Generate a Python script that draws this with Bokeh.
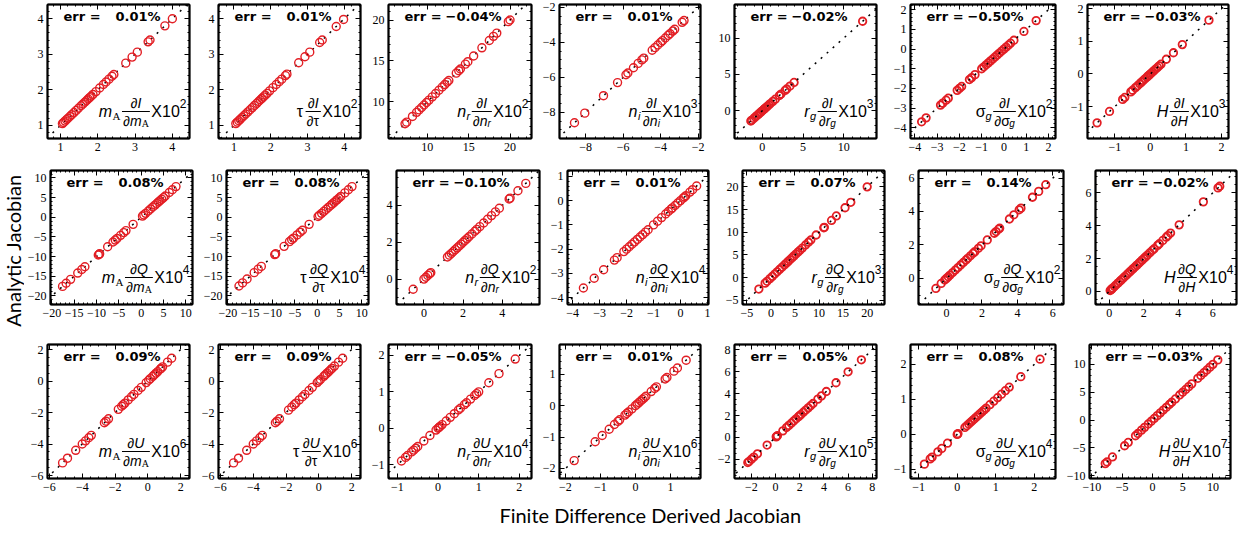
import math
from bokeh.plotting import figure
from bokeh.models import (Range1d, LinearAxis, SingleIntervalTicker, Label,
                          Slope, BoxAnnotation)
from bokeh.layouts import row, column
from bokeh.embed import file_html
from bokeh.resources import INLINE

# ---------------- data (finite-difference values; analytic values coincide within err) -------------
# row 1 : dI
r1_mA = [1.05, 1.08, 1.12, 1.16, 1.2, 1.25, 1.3, 1.36, 1.42, 1.48, 1.55, 1.6, 1.65, 1.7, 1.74, 1.78,
         1.82, 1.87, 1.95, 2.05, 2.15, 2.22, 2.3, 2.38, 2.43, 2.75, 2.92, 3.06, 3.35, 3.4, 3.8, 4.0]
r1_tau = [1.05, 1.09, 1.13, 1.17, 1.22, 1.27, 1.32, 1.38, 1.44, 1.5, 1.56, 1.62, 1.67, 1.72, 1.76, 1.8,
          1.85, 1.9, 1.97, 2.06, 2.15, 2.23, 2.3, 2.4, 2.44, 2.76, 2.93, 3.06, 3.33, 3.4, 3.78, 3.98]
r1_nr = [7.3, 7.5, 8.2, 8.7, 9.0, 9.3, 9.6, 9.9, 10.2, 10.6, 11.0, 11.4, 11.8, 12.1, 12.4, 12.6, 13.5,
         13.8, 14.0, 14.6, 14.9, 15.6, 16.6, 17.5, 18.0, 18.4, 19.8, 20.0]
r1_ni = [-8.6, -8.05, -7.05, -6.3, -5.85, -5.75, -5.45, -5.2, -5.0, -4.9, -4.45, -4.3, -4.15, -4.0,
         -3.9, -3.75, -3.6, -3.5, -3.35, -3.25, -2.85, -2.75]
r1_rg = [-1.4, -1.3, -1.05, -0.85, -0.65, -0.45, -0.3, -0.15, 0.0, 0.15, 0.3, 0.45, 0.6, 0.8, 1.0,
         1.3, 1.6, 2.1, 2.3, 2.8, 3.0, 3.4, 3.9, 12.3]
r1_sg = [-3.7, -3.5, -2.85, -2.75, -2.6, -2.5, -2.1, -2.0, -1.9, -1.55, -1.45, -1.3, -1.0, -0.9, -0.8,
         -0.7, -0.6, -0.5, -0.4, -0.3, -0.2, -0.1, 0.0, 0.1, 0.2, 0.3, 0.45, 0.9, 1.45]
r1_H = [-1.5, -1.15, -0.78, -0.72, -0.55, -0.5, -0.42, -0.36, -0.3, -0.25, -0.2, -0.15, -0.1, -0.06,
        -0.02, 0.02, 0.06, 0.1, 0.15, 0.2, 0.25, 0.3, 0.45, 0.65, 0.9, 1.65]
# row 2 : dQ
r2_mA = [-17.6, -16.8, -15.8, -14.2, -13.3, -12.6, -9.6, -9.4, -9.3, -7.5, -6.3, -5.8, -5.4, -4.6,
         -3.9, -3.4, -1.8, 0.3, 0.6, 1.0, 1.6, 2.1, 2.6, 3.1, 3.5, 3.9, 4.2, 4.6, 5.0, 5.4, 6.3, 7.0, 7.8]
r2_tau = [-17.5, -16.7, -15.7, -14.1, -13.2, -12.5, -9.5, -9.3, -7.4, -6.2, -5.7, -5.3, -4.5, -3.8,
          -3.3, -1.8, 0.2, 0.5, 1.0, 1.5, 2.0, 2.5, 3.0, 3.4, 3.8, 4.2, 4.5, 4.9, 5.3, 6.2, 7.0, 7.8]
r2_nr = [-0.55, 0.0, 0.1, 0.2, 0.3, 0.35, 1.2, 1.3, 1.4, 1.5, 1.6, 1.7, 1.8, 1.9, 2.0, 2.1, 2.2, 2.3,
         2.45, 2.6, 2.7, 2.85, 3.05, 3.25, 3.45, 3.65, 3.85, 4.35, 4.4, 4.8, 5.2]
r2_ni = [-3.6, -3.2, -2.85, -2.45, -2.35, -2.1, -2.0, -1.9, -1.8, -1.7, -1.6, -1.5, -1.4, -1.3, -1.2,
         -1.0, -0.85, -0.7, -0.55, -0.45, -0.35, -0.3, -0.2, -0.1, 0.0, 0.1, 0.15, 0.2, 0.35, 0.45, 0.6]
r2_rg = [-2.5, -1.2, -0.8, -0.2, 0.3, 0.8, 1.3, 1.8, 2.3, 2.8, 3.2, 3.6, 4.0, 4.4, 4.8, 5.2, 5.6, 6.0,
         6.5, 7.2, 7.8, 8.3, 9.4, 11.0, 11.1, 12.6, 13.6, 15.4, 16.6, 20.0]
r2_sg = [-0.6, -0.3, -0.1, 0.0, 0.1, 0.2, 0.35, 0.5, 0.65, 0.8, 0.95, 1.1, 1.2, 1.35, 1.5, 1.6, 1.8,
         1.95, 2.3, 2.7, 2.8, 2.95, 3.0, 3.55, 3.8, 4.1, 4.2, 4.85, 5.2, 5.6]
r2_H = [0.05, 0.1, 0.15, 0.2, 0.3, 0.4, 0.5, 0.6, 0.7, 0.8, 0.9, 1.0, 1.1, 1.2, 1.3, 1.4, 1.5, 1.6,
        1.7, 1.8, 1.9, 2.0, 2.1, 2.2, 2.35, 2.5, 2.6, 2.8, 2.9, 3.1, 3.3, 3.4, 3.55, 4.05, 5.45, 6.3, 6.4]
# row 3 : dU
r3_mA = [-5.2, -4.9, -4.4, -4.0, -3.8, -3.6, -3.45, -2.65, -2.55, -2.4, -1.8, -1.6, -1.5, -1.4, -1.2,
         -1.0, -0.85, -0.6, -0.4, -0.1, 0.05, 0.15, 0.3, 0.4, 0.5, 0.6, 0.75, 0.8, 0.9, 1.2, 1.45]
r3_tau = [-5.2, -4.9, -4.4, -4.0, -3.8, -3.6, -3.45, -2.65, -2.55, -2.4, -1.85, -1.65, -1.5, -1.4,
          -1.2, -1.0, -0.85, -0.6, -0.4, -0.1, 0.0, 0.1, 0.3, 0.4, 0.5, 0.6, 0.7, 0.8, 0.95, 1.2, 1.45]
r3_nr = [-0.9, -0.8, -0.75, -0.65, -0.6, -0.55, -0.5, -0.35, -0.2, -0.05, 0.0, 0.02, 0.05, 0.1, 0.2,
         0.3, 0.4, 0.5, 0.55, 0.65, 0.7, 0.8, 0.9, 0.95, 1.0, 1.25, 1.5, 1.9]
r3_ni = [-1.75, -1.15, -0.95, -0.75, -0.6, -0.5, -0.45, -0.3, -0.25, -0.2, -0.1, 0.0, 0.05, 0.1,
         0.15, 0.2, 0.25, 0.3, 0.45, 0.55, 0.6, 0.85, 0.9, 1.1, 1.2, 1.45]
r3_rg = [-2.3, -2.2, -2.0, -1.8, -1.5, -0.7, 0.05, 0.1, 0.15, 0.6, 0.9, 1.1, 1.3, 1.5, 1.7, 1.9, 2.0,
         2.1, 2.3, 2.5, 2.7, 2.9, 3.1, 3.5, 3.8, 4.2, 5.0, 6.0, 7.1]
r3_sg = [-0.85, -0.7, -0.65, -0.5, -0.4, -0.25, 0.0, 0.01, 0.02, 0.2, 0.25, 0.3, 0.35, 0.4, 0.45, 0.5,
         0.55, 0.6, 0.65, 0.7, 0.75, 0.85, 0.95, 1.05, 1.15, 1.25, 1.35, 1.65, 2.15]
r3_H = [-7.8, -7.5, -6.6, -4.6, -4.0, -2.8, -2.4, -1.8, -1.3, -0.7, -0.2, 0.3, 0.8, 1.3, 1.8, 2.3,
        2.8, 3.2, 3.8, 4.5, 5.0, 5.5, 6.0, 6.5, 7.5, 8.0, 8.5, 9.0, 9.5, 10.0, 10.8]

row_data = [
    [r1_mA, r1_tau, r1_nr, r1_ni, r1_rg, r1_sg, r1_H],
    [r2_mA, r2_tau, r2_nr, r2_ni, r2_rg, r2_sg, r2_H],
    [r3_mA, r3_tau, r3_nr, r3_ni, r3_rg, r3_sg, r3_H],
]

err_labels = [
    ["0.01%", "0.01%", "\u22120.04%", "0.01%", "\u22120.02%", "\u22120.50%", "\u22120.03%"],
    ["0.08%", "0.08%", "\u22120.10%", "0.01%", "0.07%", "0.14%", "\u22120.02%"],
    ["0.09%", "0.09%", "\u22120.05%", "0.01%", "0.05%", "0.08%", "\u22120.03%"],
]
exponents = [
    ["2", "2", "2", "3", "3", "2", "3"],
    ["4", "4", "2", "4", "3", "2", "4"],
    ["6", "6", "4", "6", "5", "4", "7"],
]
stokes = ["I", "Q", "U"]

x_ranges = [
    [(0.65, 4.46), (0.58, 4.44), (5.3, 22.6), (-9.4, -1.87), (-3.4, 14.0), (-4.2, 2.32), (-1.77, 2.2)],
    [(-20.3, 11.5), (-20.3, 11.5), (-1.4, 5.9), (-4.19, 1.04), (-5.9, 23.6), (-1.58, 6.6), (-0.8, 7.37)],
    [(-6.12, 2.54), (-6.12, 2.54), (-1.22, 2.3), (-2.17, 1.86), (-3.4, 8.35), (-1.21, 2.55), (-10.4, 12.9)],
]
y_ranges = [
    [(0.63, 4.4), (0.63, 4.4), (5.5, 21.9), (-9.5, -1.83), (-3.8, 14.6), (-4.55, 2.27), (-1.98, 2.13)],
    [(-22.2, 11.9), (-22.2, 11.9), (-1.38, 5.9), (-4.28, 1.24), (-5.9, 23.6), (-1.56, 6.45), (-0.8, 7.36)],
    [(-6.19, 2.32), (-6.19, 2.32), (-1.38, 2.3), (-2.32, 1.95), (-3.76, 8.5), (-1.26, 2.57), (-10.47, 13.56)],
]
tick_steps = [
    [1, 1, 5, 2, 5, 1, 1],
    [5, 5, 2, 1, 5, 2, 2],
    [2, 2, 1, 1, 2, 1, 5],
]

# ---------------- layout / style ----------------
RED = "#e31e24"
SANS = "Liberation Sans"
SERIF = "Liberation Serif"
FRAME_LEFT = [55, 226, 396, 567, 742, 918, 1095]
FRAME_W = [142, 142, 143, 141, 142, 145, 141]
FRAME_H = 134
TOP_B = 4
BOTTOM_B = [28, 36, 22]
RIGHT_B = 8
YLAB_W = 24
XLAB_H = 29

PREFIX = [
    ("m", "italic", "A", "normal", SERIF),
    ("\u03c4", "normal", "", "normal", SANS),
    ("n", "italic", "r", "italic", SANS),
    ("n", "italic", "i", "italic", SANS),
    ("r", "italic", "g", "italic", SANS),
    ("\u03c3", "normal", "g", "italic", SANS),
    ("H", "italic", "", "normal", SANS),
]
CW = {'m': 0.833, 'n': 0.556, 'r': 0.333, 'i': 0.222, 'g': 0.556, 'A': 0.667, 'H': 0.722, 'I': 0.278,
      'Q': 0.778, 'U': 0.722, 'X': 0.667, '0': 0.556, '1': 0.556, '\u2202': 0.50, '\u03c3': 0.58,
      '\u03c4': 0.45}


def tw(s, size, font=SANS):
    if font == SERIF:
        return sum(0.722 if c == 'A' else 0.5 for c in s) * size
    return sum(CW.get(c, 0.556) for c in s) * size


def style_axis(ax, show):
    ax.axis_line_width = 2
    ax.axis_line_color = "black"
    ax.major_tick_in = 5
    ax.major_tick_out = 0
    ax.minor_tick_in = 2
    ax.minor_tick_out = 0
    ax.major_tick_line_color = "black"
    ax.minor_tick_line_color = "black"
    ax.major_tick_line_width = 1
    ax.minor_tick_line_width = 1
    if show:
        ax.major_label_text_font = "Liberation Serif, serif"
        ax.major_label_text_font_size = "12px"
        ax.major_label_text_color = "black"
        ax.major_label_standoff = 4
    else:
        ax.major_label_text_font_size = "0px"
        ax.major_label_text_color = None
        ax.major_label_standoff = 0


def add_text(p, xr, yr, xoff, yoff, text, size, style="normal", font=SANS, anchor="br",
             align="left", bold=False):
    x = xr[1] if anchor[1] == "r" else xr[0]
    y = yr[0] if anchor[0] == "b" else yr[1]
    p.add_layout(Label(x=x, y=y, x_offset=xoff, y_offset=yoff, text=text, text_font=font,
                       text_font_size=f"{size}px", text_font_style=("bold" if bold else style),
                       text_baseline="middle", text_align=align, text_color="black"))


def add_math(p, xr, yr, W, H, col, L, exp):
    sx = (xr[1] - xr[0]) / W
    sy = (yr[1] - yr[0]) / H
    main, mst, sub, sst, sfont = PREFIX[col]
    MS, SS, FS, FSS, XS, ES = 16, 11, 14, 10, 16, 12
    YC, RGAP = 27, 3
    wm = tw(main, MS)
    ws = tw(sub, SS, sfont) if sub else 0
    pre_w = wm + (ws + 0.5 if sub else 0)
    numw = tw("\u2202" + L, FS)
    denw = tw("\u2202" + main, FS) + (tw(sub, FSS, sfont) if sub else 0)
    fw = max(numw, denw) + 2
    xw = tw("X10", XS)
    ew = tw(exp, ES)
    T = pre_w + 1.5 + fw + 1.5 + xw + ew
    x0 = -(RGAP + T)
    add_text(p, xr, yr, x0, YC, main, MS, mst)
    if sub:
        add_text(p, xr, yr, x0 + wm + 0.5, YC - 4, sub, SS, sst, sfont)
    fx = x0 + pre_w + 1.5
    nx = fx + (fw - numw) / 2
    add_text(p, xr, yr, nx, YC + 9, "\u2202", FS)
    add_text(p, xr, yr, nx + tw("\u2202", FS), YC + 9, L, FS, "italic")
    dx = fx + (fw - denw) / 2
    add_text(p, xr, yr, dx, YC - 9, "\u2202", FS)
    add_text(p, xr, yr, dx + tw("\u2202", FS), YC - 9, main, FS, mst)
    if sub:
        add_text(p, xr, yr, dx + tw("\u2202" + main, FS), YC - 12, sub, FSS, sst, sfont)
    p.add_layout(BoxAnnotation(left=xr[1] + fx * sx, right=xr[1] + (fx + fw) * sx,
                               bottom=yr[0] + (YC - 0.6) * sy, top=yr[0] + (YC + 0.6) * sy,
                               fill_color="black", fill_alpha=1, line_color=None))
    xx = fx + fw + 1.5
    add_text(p, xr, yr, xx, YC, "X10", XS)
    add_text(p, xr, yr, xx + xw, YC + 8, exp, ES)


rows = []
for r in range(3):
    figs = []
    prev_end = YLAB_W + 8
    for c in range(7):
        lb = FRAME_LEFT[c] - prev_end
        prev_end = FRAME_LEFT[c] + FRAME_W[c] + RIGHT_B
        xr, yr = x_ranges[r][c], y_ranges[r][c]
        step = tick_steps[r][c]
        nminor = 4 if step == 2 else 5
        p = figure(frame_width=FRAME_W[c], frame_height=FRAME_H,
                   x_range=Range1d(*xr), y_range=Range1d(*yr),
                   output_backend="svg", toolbar_location=None,
                   min_border_left=lb, min_border_right=RIGHT_B,
                   min_border_top=TOP_B, min_border_bottom=BOTTOM_B[r])
        p.grid.visible = False
        p.background_fill_color = "white"
        p.border_fill_color = "white"
        p.outline_line_color = "black"
        p.outline_line_width = 1.5
        p.xaxis[0].ticker = SingleIntervalTicker(interval=step, num_minor_ticks=nminor)
        p.yaxis[0].ticker = SingleIntervalTicker(interval=step, num_minor_ticks=nminor)
        style_axis(p.xaxis[0], True)
        style_axis(p.yaxis[0], True)
        top_ax = LinearAxis(ticker=SingleIntervalTicker(interval=step, num_minor_ticks=nminor))
        right_ax = LinearAxis(ticker=SingleIntervalTicker(interval=step, num_minor_ticks=nminor))
        style_axis(top_ax, False)
        style_axis(right_ax, False)
        p.add_layout(top_ax, "above")
        p.add_layout(right_ax, "right")

        vals = row_data[r][c]
        on_top = c >= 4
        slope = Slope(gradient=1, y_intercept=0, line_color="black", line_dash="2 6",
                      line_width=1.5, level=("annotation" if on_top else "underlay"))
        p.add_layout(slope)
        p.scatter(x=vals, y=vals, marker="circle", size=(7.5 if on_top else 8),
                  fill_color=None, line_color=RED, line_width=(1.8 if on_top else 1.4))

        add_text(p, xr, yr, 16, -12, "err =", 13, font="DejaVu Sans", anchor="tl", bold=True)
        add_text(p, xr, yr, 113, -12, err_labels[r][c], 13, font="DejaVu Sans", anchor="tl",
                 align="right", bold=True)
        add_math(p, xr, yr, FRAME_W[c], FRAME_H, c, stokes[r], exponents[r][c])
        figs.append(p)
    rows.append(row(*figs))

total_h = sum(TOP_B + FRAME_H + b for b in BOTTOM_B)
yl = figure(width=YLAB_W, height=total_h, x_range=Range1d(0, 1), y_range=Range1d(0, 1),
            x_axis_location=None, y_axis_location=None, output_backend="svg",
            toolbar_location=None, min_border=0)
yl.grid.visible = False
yl.outline_line_color = None
yl.add_layout(Label(x=0.5, y=0.5, text="Analytic Jacobian", angle=math.pi / 2,
                    text_align="center", text_baseline="middle", text_font="Lato",
                    text_font_size="20px", text_color="black"))

row_w = FRAME_LEFT[6] + FRAME_W[6] + RIGHT_B - (YLAB_W + 8)
xl = figure(width=row_w, height=XLAB_H, x_range=Range1d(0, 1), y_range=Range1d(0, 1),
            x_axis_location=None, y_axis_location=None, output_backend="svg",
            toolbar_location=None, min_border=0)
xl.grid.visible = False
xl.outline_line_color = None
xl.add_layout(Label(x=(658 - YLAB_W - 8) / row_w, y=0.5, text="Finite Difference Derived Jacobian",
                    text_align="center", text_baseline="middle", text_font="Lato",
                    text_font_size="20px", text_color="black"))

layout = row(yl, column(*rows, xl))
open("out.html", "w").write(file_html(layout, INLINE))
